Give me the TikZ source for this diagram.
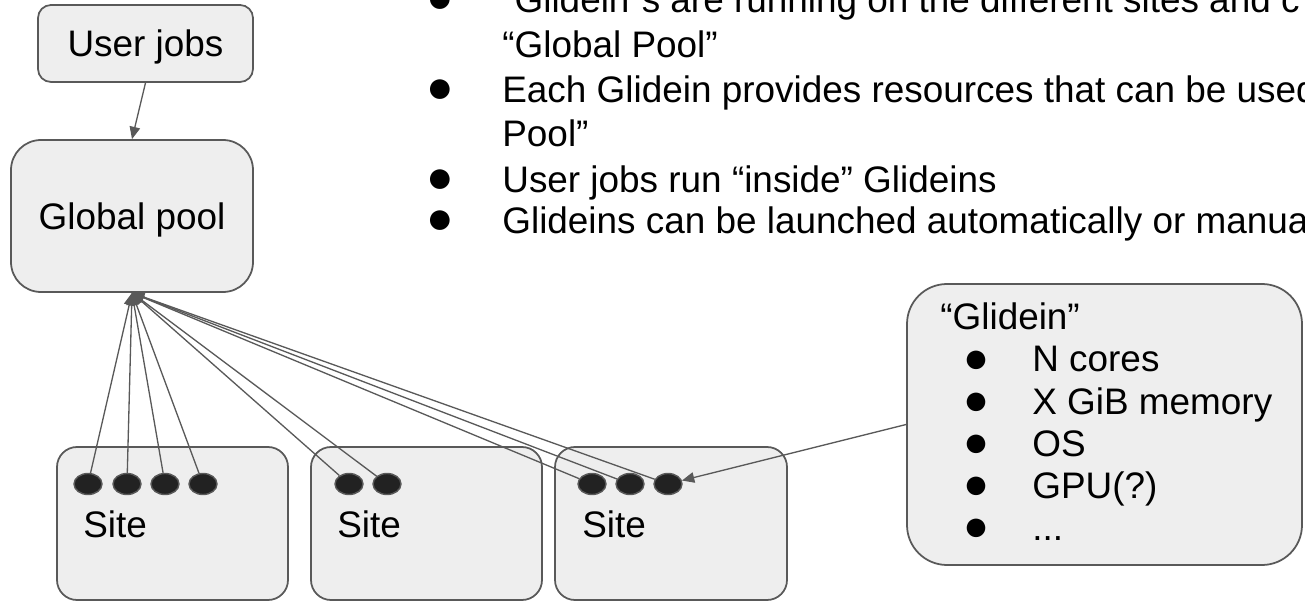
\documentclass[tikz,border=0pt]{standalone}
\usepackage{fontspec}
\setmainfont{Liberation Sans}
\usepackage{tikz}
\usetikzlibrary{shapes,arrows.meta}
\definecolor{boxfill}{HTML}{EEEEEE}
\definecolor{boxline}{HTML}{595959}
\definecolor{dotfill}{HTML}{222222}
\tikzset{
  box/.style={draw=boxline, fill=boxfill, line width=1pt, rounded corners=#1,
    inner sep=0pt, text depth=0pt, font=\fontsize{21}{24}\selectfont},
  box/.default=0.4cm,
  dot/.style={ellipse, draw=boxline, fill=dotfill, line width=0.8pt,
    minimum width=0.56cm, minimum height=0.42cm, inner sep=0pt},
  txt/.style={font=\fontsize{21}{24}\selectfont, inner sep=0pt, anchor=base west},
  bullet/.style={font=\fontsize{26}{28}\selectfont, inner sep=0pt, anchor=center},
  gbullet/.style={font=\fontsize{24.5}{26}\selectfont, inner sep=0pt, anchor=center},
  conn/.style={draw=boxline, line width=0.75pt, -{Triangle[length=7pt,width=6pt]}}
}
\begin{document}
\begin{tikzpicture}[y=-1cm]
  \useasboundingbox (0,0) rectangle (26.1,12.02);
  \clip (0,0) rectangle (26.1,12.02);

  \node[box=0.26cm, minimum width=4.3cm, minimum height=1.54cm] (user) at (2.91,0.87) {User jobs};
  \node[box=0.6cm, minimum width=4.84cm, minimum height=3.04cm] (pool) at (2.64,4.32) {Global pool};

  \node[box, minimum width=4.62cm, minimum height=3.06cm] (site1) at (3.45,10.47) {};
  \node[box, minimum width=4.62cm, minimum height=3.06cm] (site2) at (8.53,10.47) {};
  \node[box, minimum width=4.64cm, minimum height=3.06cm] (site3) at (13.42,10.47) {};
  \node[txt] (site1txt) at (1.66,10.74) {Site};
  \node[txt] (site2txt) at (6.74,10.74) {Site};
  \node[txt] (site3txt) at (11.64,10.74) {Site};

  \node[dot] (d1) at (1.76,9.68) {};
  \node[dot] (d2) at (2.54,9.68) {};
  \node[dot] (d3) at (3.30,9.68) {};
  \node[dot] (d4) at (4.06,9.68) {};
  \node[dot] (d5) at (6.98,9.68) {};
  \node[dot] (d6) at (7.74,9.68) {};
  \node[dot] (d7) at (11.84,9.68) {};
  \node[dot] (d8) at (12.60,9.68) {};
  \node[dot] (d9) at (13.36,9.68) {};

  \node[box=0.8cm, minimum width=7.9cm, minimum height=5.62cm] (glidein) at (22.09,8.49) {};
  \node[txt] (gtitle) at (18.8,6.6) {“Glidein”};
  \node[gbullet] (gb1) at (19.52,7.23) {●};
  \node[txt] (g1) at (20.64,7.44) {N cores};
  \node[gbullet] (gb2) at (19.52,8.07) {●};
  \node[txt] (g2) at (20.64,8.28) {X GiB memory};
  \node[gbullet] (gb3) at (19.52,8.91) {●};
  \node[txt] (g3) at (20.64,9.12) {OS};
  \node[gbullet] (gb4) at (19.52,9.75) {●};
  \node[txt] (g4) at (20.64,9.96) {GPU(?)};
  \node[gbullet] (gb5) at (19.52,10.59) {●};
  \node[txt] (g5) at (20.64,10.8) {...};

  \node[bullet] (b1) at (8.81,0.03) {●};
  \node[txt] (t1) at (10.04,0.26) {“Glidein”s are running on the different sites and c};
  \node[txt] (t2) at (10.04,1.16) {“Global Pool”};
  \node[bullet] (b2) at (8.81,1.83) {●};
  \node[txt] (t3) at (10.04,2.06) {Each Glidein provides resources that can be used};
  \node[txt] (t4) at (10.04,2.94) {Pool”};
  \node[bullet] (b3) at (8.81,3.63) {●};
  \node[txt] (t5) at (10.04,3.86) {User jobs run “inside” Glideins};
  \node[bullet] (b4) at (8.81,4.45) {●};
  \node[txt] (t6) at (10.04,4.68) {Glideins can be launched automatically or manua};

  \draw[conn] (user.south) -- (pool.north);
  \draw[conn] (d1) -- (pool.south);
  \draw[conn] (d2) -- (pool.south);
  \draw[conn] (d3) -- (pool.south);
  \draw[conn] (d4) -- (pool.south);
  \draw[conn] (d5) -- (pool.south);
  \draw[conn] (d6) -- (pool.south);
  \draw[conn] (d7) -- (pool.south);
  \draw[conn] (d8) -- (pool.south);
  \draw[conn] (d9) -- (pool.south);
  \draw[conn] (glidein.west) -- (d9);
\end{tikzpicture}
\end{document}
